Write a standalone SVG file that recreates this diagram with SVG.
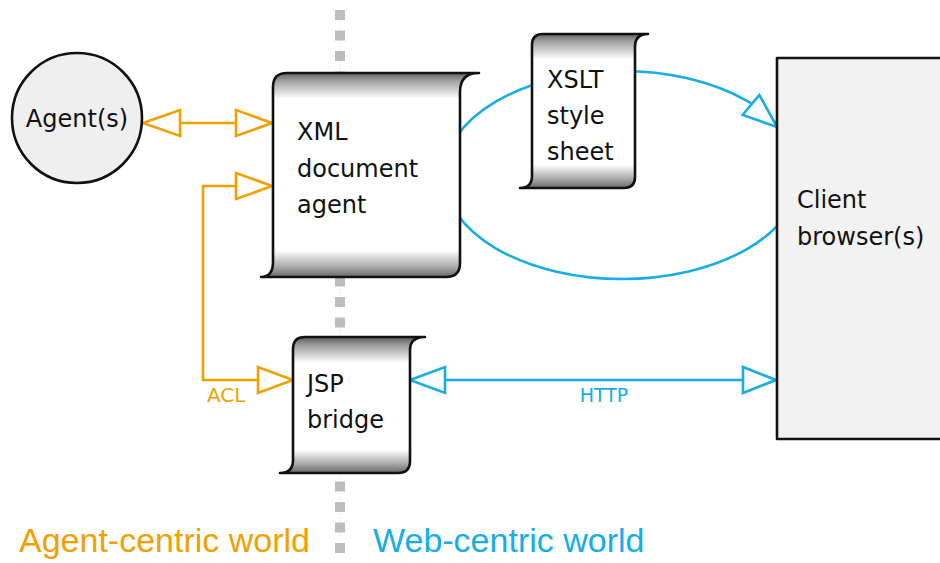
<svg xmlns="http://www.w3.org/2000/svg" width="940" height="563" viewBox="0 0 940 563">
  <style>
    .node-text { font-family: "DejaVu Sans", "Liberation Sans", sans-serif; font-size: 24px; fill: #111; }
    .outline { stroke: #111; stroke-width: 2.6; stroke-linejoin: round; }
    .orange { stroke: #f2a000; stroke-width: 2.6; fill: none; }
    .blue { stroke: #17ade6; stroke-width: 2.6; fill: none; }
    .head-o { stroke: #f2a000; stroke-width: 2.6; fill: #fff; stroke-linejoin: miter; }
    .head-b { stroke: #17ade6; stroke-width: 2.6; fill: #fff; stroke-linejoin: miter; }
    .lbl-o { font-family: "DejaVu Sans", "Liberation Sans", sans-serif; font-size: 20px; fill: #f2a000; }
    .lbl-b { font-family: "DejaVu Sans", "Liberation Sans", sans-serif; font-size: 19px; fill: #17ade6; }
    .world { font-family: "Liberation Sans", Arial, sans-serif; font-size: 34px; }
  </style>
  <defs>
    <linearGradient id="gXml" gradientUnits="userSpaceOnUse" x1="0" y1="72" x2="0" y2="277">
      <stop offset="0" stop-color="#5a5a5a"/>
      <stop offset="0.04" stop-color="#9c9c9c"/>
      <stop offset="0.13" stop-color="#ffffff"/>
      <stop offset="0.87" stop-color="#ffffff"/>
      <stop offset="0.95" stop-color="#aaaaaa"/>
      <stop offset="1" stop-color="#6a6a6a"/>
    </linearGradient>
    <linearGradient id="gXslt" gradientUnits="userSpaceOnUse" x1="0" y1="33" x2="0" y2="188">
      <stop offset="0" stop-color="#5a5a5a"/>
      <stop offset="0.05" stop-color="#9c9c9c"/>
      <stop offset="0.17" stop-color="#ffffff"/>
      <stop offset="0.85" stop-color="#ffffff"/>
      <stop offset="0.94" stop-color="#aaaaaa"/>
      <stop offset="1" stop-color="#6a6a6a"/>
    </linearGradient>
    <linearGradient id="gJsp" gradientUnits="userSpaceOnUse" x1="0" y1="337" x2="0" y2="473">
      <stop offset="0" stop-color="#5a5a5a"/>
      <stop offset="0.06" stop-color="#9c9c9c"/>
      <stop offset="0.19" stop-color="#ffffff"/>
      <stop offset="0.83" stop-color="#ffffff"/>
      <stop offset="0.93" stop-color="#aaaaaa"/>
      <stop offset="1" stop-color="#6a6a6a"/>
    </linearGradient>
  </defs>

  <rect x="0" y="0" width="940" height="563" fill="#ffffff"/>

  <g id="divider">
    <line x1="340" y1="10" x2="340" y2="553" stroke="#dcdcdc" stroke-width="1" stroke-dasharray="1 2"/>
    <line x1="340" y1="10" x2="340" y2="553" stroke="#bdbdbd" stroke-width="10" stroke-dasharray="10 10.5"/>
  </g>

  <g id="connectors">
    <!-- XML -> XSLT -> Browser transformation loop -->
    <ellipse cx="622" cy="175" rx="178" ry="104" class="blue"/>
    <polygon class="head-b" points="777,127 742.6,115 759.4,95"/>
    <!-- Agent(s) <-> XML document agent -->
    <line class="orange" x1="180" y1="123" x2="236" y2="123"/>
    <polygon class="head-o" points="143,123 180,110 180,136"/>
    <polygon class="head-o" points="272,123 236,110 236,136"/>
    <!-- JSP bridge <-> XML document agent (ACL) -->
    <polyline class="orange" points="236,186 203,186 203,380 258,380"/>
    <polygon class="head-o" points="272,186 236,173 236,199"/>
    <polygon class="head-o" points="293,380 258,367 258,393"/>
    <text class="lbl-o" x="207" y="402">ACL</text>
    <!-- JSP bridge <-> Client browser (HTTP) -->
    <line class="blue" x1="445" y1="380" x2="743" y2="380"/>
    <polygon class="head-b" points="410,380 445,367 445,393"/>
    <polygon class="head-b" points="776,380 743,367 743,393"/>
    <text class="lbl-b" x="604" y="402" text-anchor="middle">HTTP</text>
  </g>

  <g id="agents">
    <circle cx="77" cy="118" r="65" fill="#efefef" class="outline"/>
    <text class="node-text" x="77" y="127" text-anchor="middle">Agent(s)</text>
  </g>

  <g id="xml-document-agent">
    <path class="outline" fill="url(#gXml)" d="M 479 73 L 287 73 Q 273 73 273 87 L 273 262 Q 273 277 261 277 L 446 277 Q 460 277 460 263 L 460 92 Q 460 73 479 73 Z"/>
    <text class="node-text" x="297" y="140">XML</text>
    <text class="node-text" x="297" y="177">document</text>
    <text class="node-text" x="297" y="213">agent</text>
  </g>

  <g id="xslt-style-sheet">
    <path class="outline" fill="url(#gXslt)" d="M 648 34 L 543 34 Q 532 34 532 45 L 532 176 Q 532 188 520 188 L 624 188 Q 635 188 635 177 L 635 47 Q 635 34 648 34 Z"/>
    <text class="node-text" x="547" y="88">XSLT</text>
    <text class="node-text" x="547" y="124">style</text>
    <text class="node-text" x="547" y="160">sheet</text>
  </g>

  <g id="jsp-bridge">
    <path class="outline" fill="url(#gJsp)" d="M 425 337 L 305 337 Q 293 337 293 349 L 293 460 Q 293 473 280 473 L 398 473 Q 410 473 410 461 L 410 350 Q 410 337 425 337 Z"/>
    <text class="node-text" x="307" y="392">JSP</text>
    <text class="node-text" x="307" y="428">bridge</text>
  </g>

  <g id="client-browsers">
    <rect x="777" y="58" width="180" height="381" fill="#f2f2f2" class="outline"/>
    <text class="node-text" x="797" y="208">Client</text>
    <text class="node-text" x="797" y="245">browser(s)</text>
  </g>

  <g id="world-labels">
    <text class="world" x="19" y="552" fill="#f2a000">Agent-centric world</text>
    <text class="world" x="373" y="552" fill="#17ade6">Web-centric world</text>
  </g>
</svg>
